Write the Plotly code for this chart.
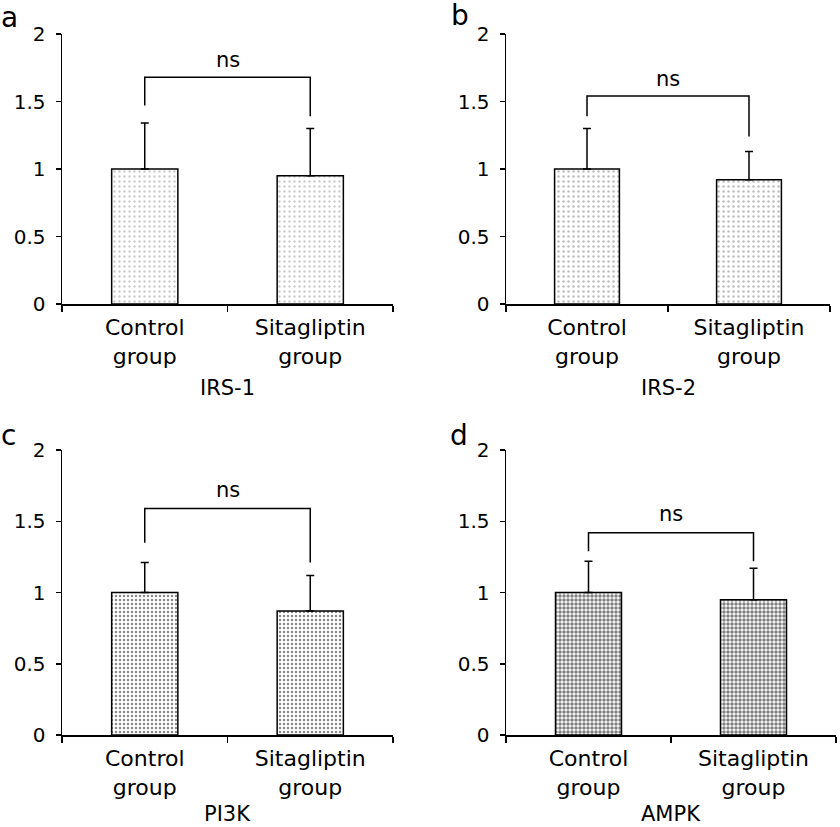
import plotly.graph_objects as go

# ---------------- data ----------------
categories = ["Control<br>group", "Sitagliptin<br>group"]
panel_letters = ["a", "b", "c", "d"]
panel_titles = ["IRS-1", "IRS-2", "PI3K", "AMPK"]

means_irs1 = [1.00, 0.95]
sd_irs1 = [0.34, 0.35]
means_irs2 = [1.00, 0.92]
sd_irs2 = [0.30, 0.21]
means_pi3k = [1.00, 0.87]
sd_pi3k = [0.21, 0.25]
means_ampk = [1.00, 0.95]
sd_ampk = [0.22, 0.22]

# bracket: top, left-leg bottom, right-leg bottom, label height
bracket_top = [1.68, 1.54, 1.59, 1.42]
bracket_left = [1.47, 1.39, 1.35, 1.29]
bracket_right = [1.39, 1.24, 1.21, 1.22]
ns_y = [1.81, 1.67, 1.72, 1.55]
sig_labels = ["ns", "ns", "ns", "ns"]

y_ticks = [0, 0.5, 1, 1.5, 2]
y_tick_text = ["0", "0.5", "1", "1.5", "2"]

means = [means_irs1, means_irs2, means_pi3k, means_ampk]
sds = [sd_irs1, sd_irs2, sd_pi3k, sd_ampk]

# ---------------- layout geometry (pixels) ----------------
W, H = 840, 827
# (x0, x1, ytop, ybottom)
boxes = [(62, 393, 34, 304), (506, 830, 34, 304),
         (62, 393, 450, 735), (506, 836, 450, 735)]
letter_pos = [(9, 17), (460, 15), (8, 435), (459, 436)]
title_y = [388, 388, 814, 814]

patterns = [
    dict(shape=".", fgcolor="#9a9a9a", bgcolor="white", size=5, solidity=0.18),
    dict(shape=".", fgcolor="#808080", bgcolor="white", size=5, solidity=0.2),
    dict(shape=".", fgcolor="#111111", bgcolor="white", size=4, solidity=0.3),
    dict(shape=".", fgcolor="#000000", bgcolor="white", size=4, solidity=0.6),
]

FONT = "DejaVu Sans, Verdana, sans-serif"

fig = go.Figure()
layout = dict(
    width=W, height=H,
    margin=dict(l=0, r=0, t=0, b=0, pad=0, autoexpand=False),
    paper_bgcolor="white", plot_bgcolor="white", showlegend=False,
    font=dict(family=FONT, color="black", size=20),
)
annotations = []

for i in range(4):
    sfx = "" if i == 0 else str(i + 1)
    xa, ya = "x" + sfx, "y" + sfx
    x0, x1, yt, yb = boxes[i]

    fig.add_trace(go.Bar(
        x=categories, y=means[i], xaxis=xa, yaxis=ya,
        width=0.4,
        marker=dict(color="white", line=dict(color="black", width=1.5),
                    pattern=patterns[i]),
        error_y=dict(type="data", symmetric=False, array=sds[i],
                     arrayminus=[0, 0], color="black", thickness=1.5, width=4),
        hoverinfo="skip",
    ))
    # significance bracket
    fig.add_trace(go.Scatter(
        x=[categories[0], categories[0], categories[1], categories[1]],
        y=[bracket_left[i], bracket_top[i], bracket_top[i], bracket_right[i]],
        xaxis=xa, yaxis=ya, mode="lines",
        line=dict(color="black", width=1.5), hoverinfo="skip",
    ))
    annotations.append(dict(
        x=0.5, y=ns_y[i], xref=xa, yref=ya, text=sig_labels[i],
        showarrow=False, font=dict(size=21), yanchor="middle"))

    layout["xaxis" + sfx] = dict(
        domain=[x0 / W, x1 / W], anchor=ya, type="category",
        range=[-0.5, 1.5], showline=True, linecolor="black", linewidth=1.5,
        ticks="outside", tickson="boundaries", ticklen=6, tickwidth=1.5,
        tickcolor="black", tickfont=dict(size=22), showgrid=False,
        zeroline=False, fixedrange=True, automargin=False,
        ticklabelstandoff=3,
    )
    layout["yaxis" + sfx] = dict(
        domain=[1 - yb / H, 1 - yt / H], anchor=xa, range=[0, 2],
        tickvals=y_ticks, ticktext=y_tick_text, showline=True,
        linecolor="black", linewidth=1.5, ticks="outside", ticklen=5,
        tickwidth=1.5, tickcolor="black", tickfont=dict(size=20),
        showgrid=False, zeroline=False, fixedrange=True,
        ticklabelstandoff=6, automargin=False,
    )
    annotations.append(dict(
        x=(x0 + x1) / 2 / W, y=1 - title_y[i] / H, xref="paper", yref="paper",
        text=panel_titles[i], showarrow=False, font=dict(size=21),
        xanchor="center", yanchor="middle"))
    lx, ly = letter_pos[i]
    annotations.append(dict(
        x=lx / W, y=1 - ly / H, xref="paper", yref="paper",
        text=panel_letters[i], showarrow=False, font=dict(size=28),
        xanchor="center", yanchor="middle"))

layout["annotations"] = annotations
fig.update_layout(**layout)
fig.write_html(
    "out.html",
    config={"displayModeBar": False, "staticPlot": True},
    post_script="document.body.style.margin='0';document.body.style.overflow='hidden';",
)
